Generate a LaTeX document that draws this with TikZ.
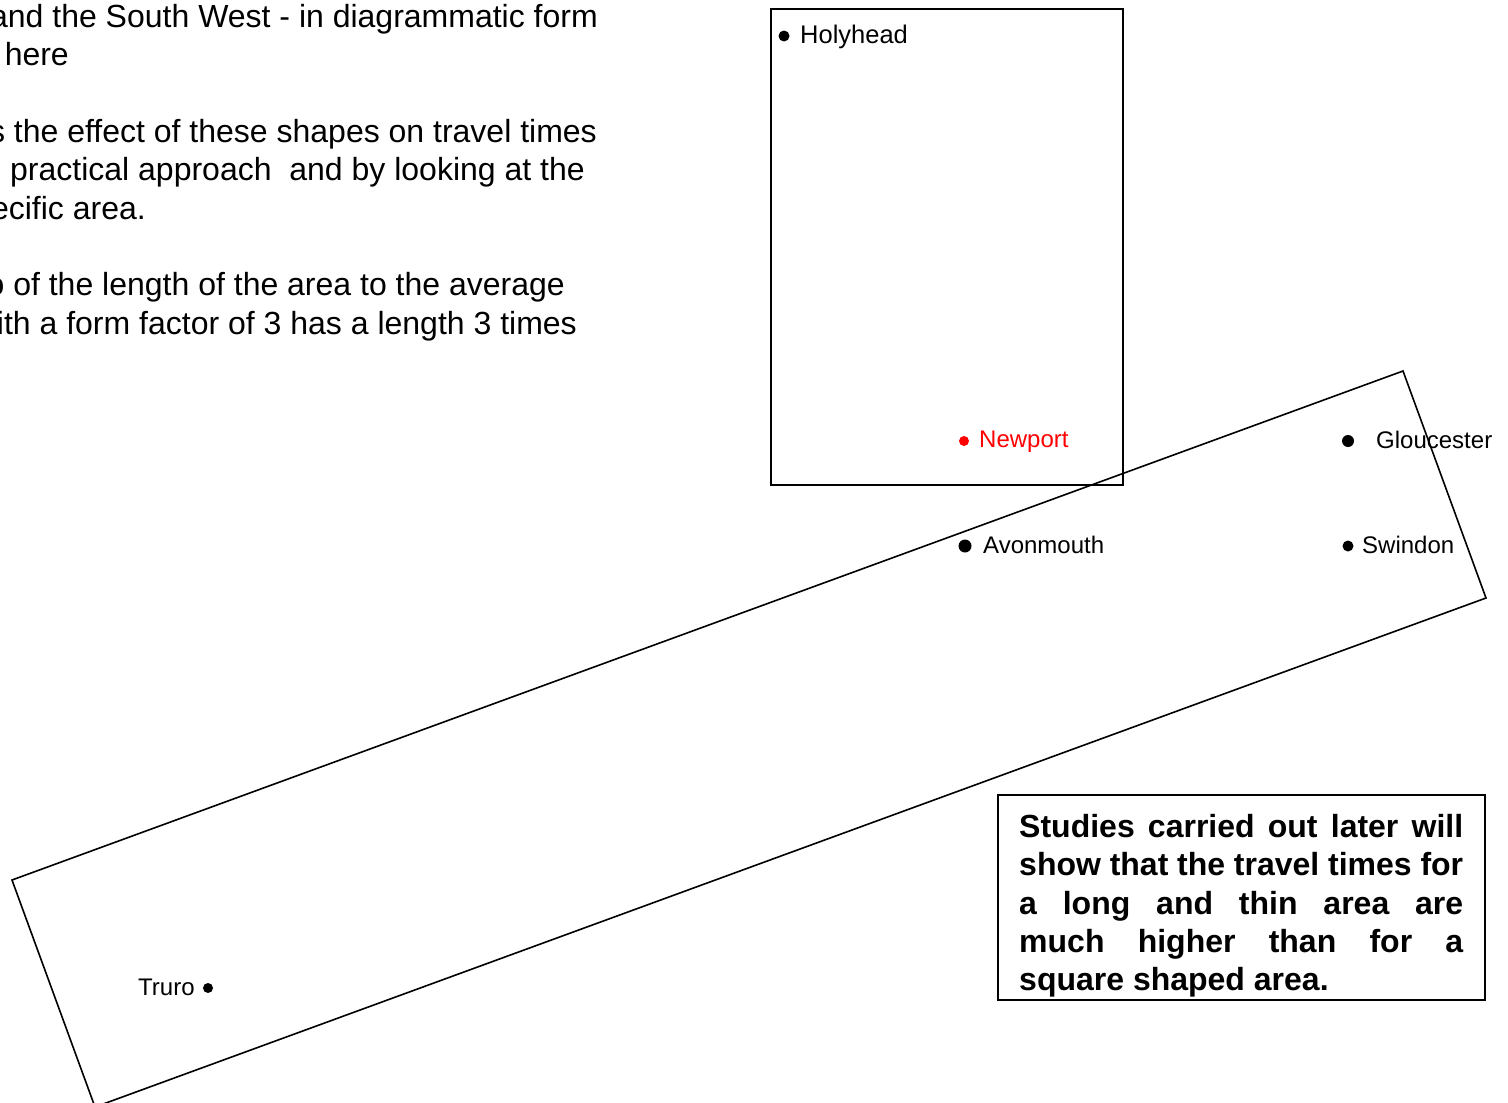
\documentclass[tikz,border=0pt]{standalone}
\usepackage{fontspec}
\setmainfont{Liberation Sans}
\begin{document}
\begin{tikzpicture}[x=1pt,y=-1pt,
  topline/.style={anchor=base east,inner sep=0pt,font=\fontsize{32}{38}\selectfont},
  lbl/.style={anchor=base west,inner sep=0pt,font=\fontsize{24}{28}\selectfont},
  dot/.style={circle,fill=black,inner sep=0pt,minimum size=#1},
  frame/.style={draw=black,line width=1.6pt}]
\useasboundingbox (0,0) rectangle (1508,1103);
% top-left text (cut at left edge)
\node[topline] (t1) at (598,27) {and the South West - in diagrammatic form};
\node[topline] (t2) at (69,65.4) {here};
\node[topline] (t3) at (597,142.2) {s the effect of these shapes on travel times};
\node[topline] (t4) at (585,180.6) {’ practical approach\ \ and by looking at the};
\node[topline] (t5) at (146,219) {ecific area.};
\node[topline] (t6) at (565,295.8) {o of the length of the area to the average};
\node[topline] (t7) at (577,334.2) {ith a form factor of 3 has a length 3 times};
% upright rectangle
\coordinate (ra) at (771,9);
\coordinate (rb) at (1123,485);
\draw[frame,line width=1.8pt] (ra) rectangle (rb);
% rotated rectangle
\coordinate (p1) at (12,880);
\coordinate (p2) at (1403,371);
\coordinate (p3) at (1486,598);
\coordinate (p4) at (95,1107);
\draw[frame,line join=miter] (p1) -- (p2) -- (p3) -- (p4) -- cycle;
% places
\node[dot=11pt] (dh) at (784,36) {};
\node[lbl,font=\fontsize{25.5}{30}\selectfont] (holyhead) at (800,43) {Holyhead};
\node[dot=10pt,fill=red] (dn) at (964,441) {};
\node[lbl,text=red] (newport) at (979,447.5) {Newport};
\node[dot=12pt] (dg) at (1348,441) {};
\node[lbl] (gloucester) at (1376,448) {Gloucester};
\node[dot=13pt] (da) at (965,546) {};
\node[lbl] (avonmouth) at (983,553) {Avonmouth};
\node[dot=11pt] (ds) at (1348,546) {};
\node[lbl] (swindon) at (1362,553) {Swindon};
\node[lbl] (truro) at (138,995) {Truro};
\node[dot=10pt] (dt) at (208,988) {};
% text box
\draw[line width=1.6pt] (998,795) rectangle (1485,1000);
\node[anchor=north west,inner sep=0pt,text width=444pt,align=justify,
  font=\bfseries\fontsize{32}{38.4}\selectfont] (note) at (1019,814)
  {\hyphenpenalty=10000 Studies carried out later will\linebreak
   show that the travel times for\linebreak
   a long and thin area are\linebreak
   much higher than for a\linebreak
   square shaped area.};
\end{tikzpicture}
\end{document}
